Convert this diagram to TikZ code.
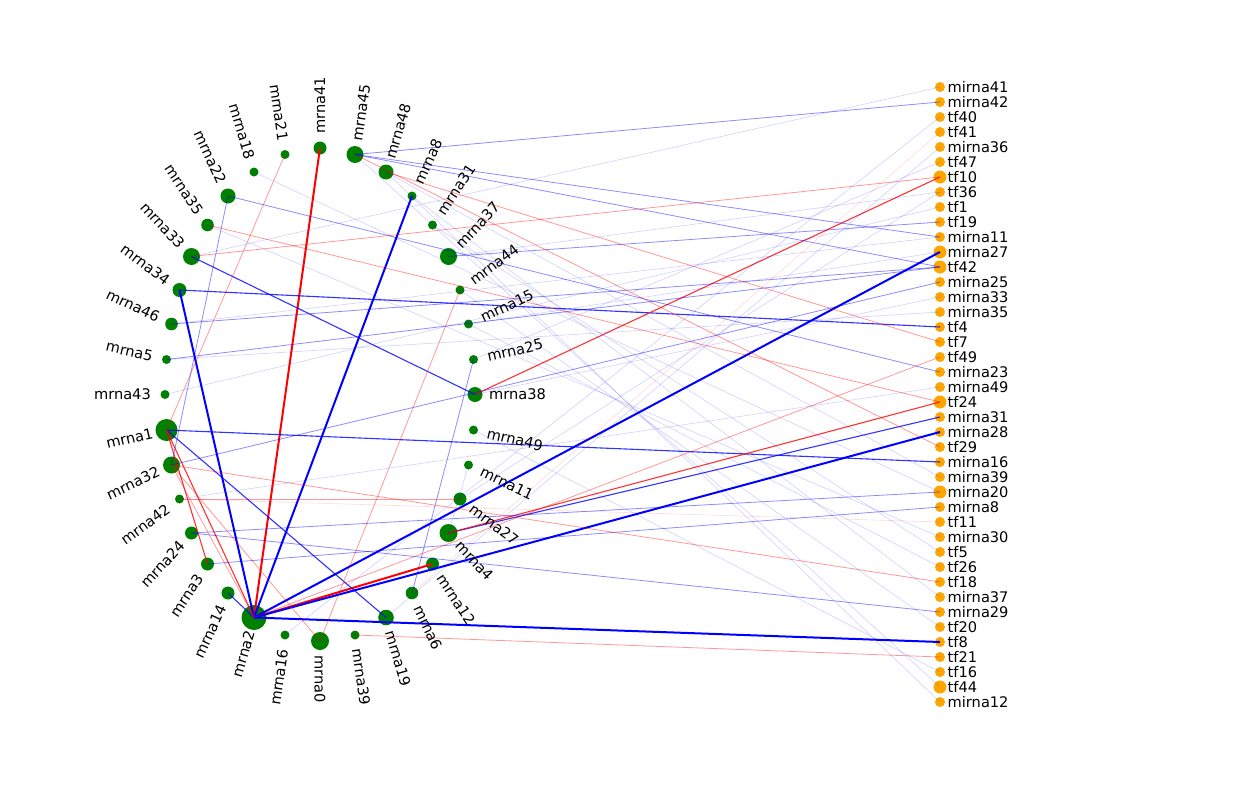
\documentclass[tikz,border=0pt]{standalone}
\usepackage{fontspec}
\setmainfont{DejaVu Sans}
\usepackage{tikz}
\definecolor{genegreen}{HTML}{008000}
\definecolor{regorange}{HTML}{FFA500}
\tikzstyle{gene} = [circle, fill=genegreen, inner sep=0pt, outer sep=0pt]
\tikzstyle{reg} = [circle, fill=regorange, inner sep=0pt, outer sep=0pt]
\tikzstyle{lbl} = [inner sep=0pt, font=\fontsize{14.6}{17}\selectfont]
\tikzstyle{bS} = [draw=blue, line width=2pt]
\tikzstyle{bM} = [draw=blue, line width=1.1pt, opacity=0.8]
\tikzstyle{bW} = [draw=blue, line width=0.8pt, opacity=0.45]
\tikzstyle{bF} = [draw=blue, line width=0.6pt, opacity=0.18]
\tikzstyle{rS} = [draw=red, line width=2pt]
\tikzstyle{rM} = [draw=red, line width=1.1pt, opacity=0.8]
\tikzstyle{rW} = [draw=red, line width=0.8pt, opacity=0.4]
\tikzstyle{rF} = [draw=red, line width=0.6pt, opacity=0.15]

% name/x/y/radius, pixel units, y downwards
\def\genes{mrna41/320/148/6.5, mrna45/355/154.5/8.5, mrna48/386/172/7.5,
  mrna8/412/196/4.5, mrna31/432.5/225/4.5, mrna37/448.5/256.5/8.5,
  mrna44/460/290/4.5, mrna15/468.5/324/4.5, mrna25/473.5/359.5/4.5,
  mrna38/475/394.5/7.5, mrna49/473.5/430/4.5, mrna11/468.5/465/4.5,
  mrna27/460/499/6.5, mrna4/448.5/533/9, mrna12/432.5/564/6.5,
  mrna6/412/593/6.3, mrna19/386/617.5/7.8, mrna39/355/635/4.5,
  mrna0/320/641/9, mrna16/285/635/4.5, mrna2/254/617.5/12.5,
  mrna14/228/593/6.5, mrna3/207.5/564/6.5, mrna24/191.5/533/6.5,
  mrna42/179.5/499/4.5, mrna32/171.5/465/8.5, mrna1/166.5/430/11,
  mrna43/165/394.5/4.5, mrna5/166.5/359.5/4.5, mrna46/171.5/324/6.3,
  mrna34/179.5/290/7, mrna33/191.5/256.5/8.5, mrna35/207.5/225/6.3,
  mrna22/228/196/7.5, mrna18/254/172/4.5, mrna21/285/154.5/4.5}

\def\regs{mirna41/5, mirna42/5, tf40/5, tf41/5, mirna36/5, tf47/5, tf10/6.5,
  tf36/5, tf1/5, tf19/5, mirna11/5, mirna27/6.5, tf42/6.5, mirna25/5,
  mirna33/5, mirna35/5, tf4/5, tf7/5, tf49/5, mirna23/5, mirna49/5,
  tf24/6.5, mirna31/5, mirna28/5, tf29/5, mirna16/5, mirna39/5,
  mirna20/6.5, mirna8/5, tf11/5, mirna30/5, tf5/5, tf26/5, tf18/5,
  mirna37/5, mirna29/5, tf20/5, tf8/5, tf21/5, tf16/5, tf44/6.5, mirna12/5}

\begin{document}
\begin{tikzpicture}[x=1pt, y=1pt]
    \useasboundingbox (0,0) rectangle (1260,-790);

    \foreach \nm/\x/\y/\r in \genes {
        \pgfmathsetmacro\d{2*\r}
        \node[gene, minimum size=\d pt] (\nm) at (\x,-\y) {};
    }
    \foreach \nm/\r [count=\i] in \regs {
        \pgfmathsetmacro\d{2*\r}
        \node[reg, minimum size=\d pt] (\nm) at (940,{-72-15*\i}) {};
    }

    % strong links
    \foreach \a/\b in {mrna41/mrna2, mrna12/mrna2}
        \draw[rS] (\a.center) -- (\b.center);
    \foreach \a/\b in {mrna8/mrna2, mrna34/mrna2, mrna2/mirna27, mrna2/mirna28, mrna2/tf8}
        \draw[bS] (\a.center) -- (\b.center);
    \foreach \a/\b in {mrna14/mrna2, mrna33/mrna38, mrna34/tf4, mrna1/mirna16,
            mrna4/mirna31, mrna1/mrna19}
        \draw[bM] (\a.center) -- (\b.center);
    \foreach \a/\b in {mrna38/tf10, mrna4/tf24, mrna1/mrna3, mrna1/mrna2}
        \draw[rM] (\a.center) -- (\b.center);

    % weak links
    \foreach \a/\b in {mrna45/mirna42, mrna37/tf19, mrna22/mirna23, mrna46/tf42,
            mrna5/tf42, mrna24/mirna20, mrna24/mirna29, mrna3/mirna8, mrna32/mirna25,
            mrna22/mrna32, mrna25/mrna6, mrna45/tf42, mrna45/mirna11}
        \draw[bW] (\a.center) -- (\b.center);
    \foreach \a/\b in {mrna33/tf10, mrna35/tf24, mrna48/tf7, mrna45/tf29, mrna32/tf18,
            mrna39/tf21, mrna21/mrna1, mrna0/mrna44, mrna32/mrna0, mrna32/mrna2,
            mrna42/mrna27, mrna2/tf49}
        \draw[rW] (\a.center) -- (\b.center);
    \foreach \a/\b in {mrna33/mirna41, mrna16/tf40, mrna19/mirna36, mrna25/tf47,
            mrna27/tf36, mrna43/tf1, mrna15/mirna27, mrna46/mirna11, mrna38/mirna33,
            mrna5/mirna35, mrna42/mirna49, mrna48/mirna39, mrna35/mirna30, mrna31/tf5,
            mrna15/tf26, mrna8/mirna37, mrna44/tf20, mrna49/tf16, mrna45/tf44,
            mrna48/mirna12, mrna18/mirna20, mrna37/tf36, mrna4/mrna11}
        \draw[bF] (\a.center) -- (\b.center);
    \foreach \a/\b in {mrna6/tf41, mrna42/tf11}
        \draw[rF] (\a.center) -- (\b.center);

    % labels
    \foreach \nm/\x/\y/\r in \genes {
        \pgfmathsetmacro\ang{atan2(394.5-\y,\x-320)}
        \pgfmathtruncatemacro\lft{abs(\ang)>90.5 ? 1 : 0}
        \ifnum\lft=1
            \pgfmathsetmacro\rot{\ang>0 ? \ang-180 : \ang+180}
            \path (\nm) ++(\ang:14) node[lbl, anchor=east, rotate=\rot] (\nm-lab) {\nm};
        \else
            \path (\nm) ++(\ang:14) node[lbl, anchor=west, rotate=\ang] (\nm-lab) {\nm};
        \fi
    }
    \foreach \nm/\r [count=\i] in \regs
        \node[lbl, anchor=west] (\nm-lab) at (947.5,{-72-15*\i}) {\nm};
\end{tikzpicture}
\end{document}
